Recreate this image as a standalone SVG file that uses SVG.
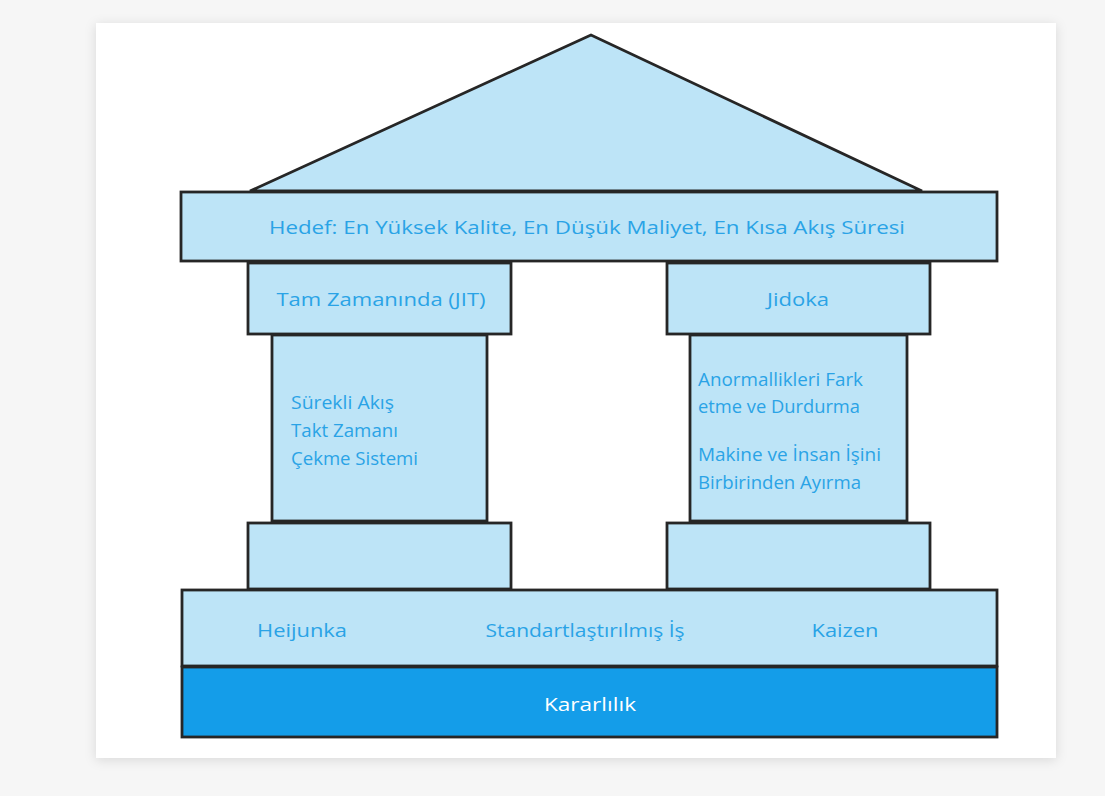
<svg xmlns="http://www.w3.org/2000/svg" width="1105" height="796" viewBox="0 0 1105 796">
  <defs>
    <filter id="cardShadow" x="-10%" y="-10%" width="120%" height="120%">
      <feDropShadow dx="0" dy="2" stdDeviation="6" flood-color="#000" flood-opacity="0.12"/>
    </filter>
  </defs>
  <style>
    .block { fill: #bde4f7; stroke: #262626; stroke-width: 2.8; stroke-linejoin: miter; }
    .dark { fill: #149de9; stroke: #262626; stroke-width: 2.8; }
    .lbl { font-family: "Open Sans", "DejaVu Sans", sans-serif; font-size: 18px; font-weight: 500; fill: #2aa3e6; }
    .mid { text-anchor: middle; }
    .white { fill: #ffffff; }
  </style>

  <!-- page background and card -->
  <rect x="0" y="0" width="1105" height="796" fill="#f6f6f6"/>
  <rect x="96" y="23" width="960" height="735" fill="#ffffff" filter="url(#cardShadow)"/>

  <!-- roof -->
  <g id="roof">
    <polygon class="block" points="591,35 250,191 922,191"/>
  </g>

  <!-- goal beam -->
  <g id="goal">
    <rect class="block" x="181" y="192" width="816" height="69"/>
    <text class="lbl mid" x="587" y="234" textLength="636" lengthAdjust="spacingAndGlyphs">Hedef: En Yüksek Kalite, En Düşük Maliyet, En Kısa Akış Süresi</text>
  </g>

  <!-- left pillar: JIT -->
  <g id="jit-capital">
    <rect class="block" x="248" y="263" width="263" height="71"/>
    <text class="lbl mid" x="381" y="306" textLength="209" lengthAdjust="spacingAndGlyphs">Tam Zamanında (JIT)</text>
  </g>
  <g id="jit-shaft">
    <rect class="block" x="272" y="335" width="215" height="186"/>
    <text class="lbl" x="291" y="409" textLength="103" lengthAdjust="spacingAndGlyphs">Sürekli Akış</text>
    <text class="lbl" x="291" y="437" textLength="107" lengthAdjust="spacingAndGlyphs">Takt Zamanı</text>
    <text class="lbl" x="291" y="465" textLength="127" lengthAdjust="spacingAndGlyphs">Çekme Sistemi</text>
  </g>
  <g id="jit-base">
    <rect class="block" x="248" y="523" width="263" height="66"/>
  </g>

  <!-- right pillar: Jidoka -->
  <g id="jidoka-capital">
    <rect class="block" x="667" y="263" width="263" height="71"/>
    <text class="lbl mid" x="798" y="306" textLength="62" lengthAdjust="spacingAndGlyphs">Jidoka</text>
  </g>
  <g id="jidoka-shaft">
    <rect class="block" x="690" y="335" width="217" height="186"/>
    <text class="lbl" x="698" y="386" textLength="165" lengthAdjust="spacingAndGlyphs">Anormallikleri Fark</text>
    <text class="lbl" x="698" y="413" textLength="162" lengthAdjust="spacingAndGlyphs">etme ve Durdurma</text>
    <text class="lbl" x="698" y="461" textLength="183" lengthAdjust="spacingAndGlyphs">Makine ve İnsan İşini</text>
    <text class="lbl" x="698" y="489" textLength="163" lengthAdjust="spacingAndGlyphs">Birbirinden Ayırma</text>
  </g>
  <g id="jidoka-base">
    <rect class="block" x="667" y="523" width="263" height="66"/>
  </g>

  <!-- foundation -->
  <g id="foundation">
    <rect class="block" x="182" y="590" width="815" height="76"/>
    <text class="lbl" x="257" y="637" textLength="90" lengthAdjust="spacingAndGlyphs">Heijunka</text>
    <text class="lbl mid" x="585" y="637" textLength="199" lengthAdjust="spacingAndGlyphs">Standartlaştırılmış İş</text>
    <text class="lbl mid" x="845" y="637" textLength="67" lengthAdjust="spacingAndGlyphs">Kaizen</text>
  </g>

  <!-- stability base -->
  <g id="stability">
    <rect class="dark" x="182" y="667" width="815" height="70"/>
    <text class="lbl mid white" x="590" y="711" textLength="92" lengthAdjust="spacingAndGlyphs">Kararlılık</text>
  </g>
</svg>
